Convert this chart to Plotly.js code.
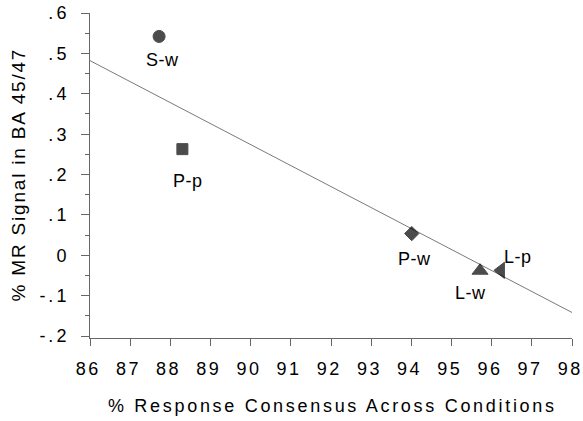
<!DOCTYPE html>
<html>
<head>
<meta charset="utf-8">
<script src="https://cdn.plot.ly/plotly-3.0.1.min.js"></script>
<style>html,body{margin:0;padding:0;background:#fff;}#chart{width:583px;height:421px;}</style>
</head>
<body>
<div id="chart"></div>
<script>
// Conditions (points)
const conditions = ["S-w", "P-p", "P-w", "L-w", "L-p"];
const consensus = [87.72, 88.30, 94.01, 95.71, 96.23];      // % response consensus
const mrSignal = [0.542, 0.263, 0.054, -0.038, -0.037];     // % MR signal in BA 45/47
const symbols = ["circle", "square", "diamond", "triangle-up", "triangle-left"];
const markerSizes = [12, 11, 11, 14, 14];

// Regression line endpoints
const fitX = [86, 98.07];
const fitY = [0.482, -0.145];

// Axis ticks
const xTickVals = [86, 87, 88, 89, 90, 91, 92, 93, 94, 95, 96, 97, 98];
const xTickText = ["86", "87", "88", "89", "90", "91", "92", "93", "94", "95", "96", "97", "98"];
const yTickVals = [0.6, 0.5, 0.4, 0.3, 0.2, 0.1, 0, -0.1, -0.2];
const yTickText = [".6", ".5", ".4", ".3", ".2", ".1", "0", "-.1", "-.2"];

// Label offsets in px (style)
const labelShift = [[3, -24], [5, -32], [3, -25], [-10, -22], [17, 13]];

const font = "Liberation Sans, Arial, Helvetica, sans-serif";
const spaced = (t, ls) => '<span style="letter-spacing:' + ls + 'px">' + t + '</span>';
// letter-spacing between characters only (no trailing space after the last one)
const spacedInner = (t, ls) => t.length > 1 ? spaced(t.slice(0, -1), ls) + t.slice(-1) : t;

const traces = [
  {
    x: fitX, y: fitY, mode: "lines", type: "scatter",
    line: {color: "#7a7a7a", width: 1}, hoverinfo: "skip", cliponaxis: false
  },
  {
    x: consensus, y: mrSignal, mode: "markers", type: "scatter",
    marker: {symbol: symbols, size: markerSizes, color: "#000", line: {color: "#000", width: 1}},
    cliponaxis: false
  }
];

const annotations = conditions.map((c, i) => ({
  x: consensus[i], y: mrSignal[i], xref: "x", yref: "y",
  text: spacedInner(c, 0.5), showarrow: false,
  xshift: labelShift[i][0], yshift: labelShift[i][1],
  font: {family: font, size: 18, color: "#000"}
}));

const layout = {
  width: 583, height: 421,
  margin: {l: 90, r: 11, t: 13, b: 83},
  paper_bgcolor: "#fff", plot_bgcolor: "#fff",
  showlegend: false,
  font: {family: font, color: "#000"},
  xaxis: {
    range: [86, 98], tickvals: xTickVals, ticktext: xTickText.map(t => spacedInner(t, 2.5)),
    showgrid: false, zeroline: false,
    showline: true, linecolor: "#666", linewidth: 1,
    ticks: "outside", ticklen: 7, tickcolor: "#666", tickwidth: 1,
    tickfont: {family: font, size: 18, color: "#000"},
    ticklabelstandoff: 7, ticklabelshift: -3, ticklabeloverflow: "allow",
    title: {text: spacedInner("% Response Consensus Across Conditions", 2.7),
            font: {family: font, size: 18, color: "#000"}, standoff: 21}
  },
  yaxis: {
    range: [-0.2045, 0.6], tickvals: yTickVals, ticktext: yTickText.map(t => spacedInner(t, 3)),
    showgrid: false, zeroline: false,
    showline: true, linecolor: "#666", linewidth: 1,
    ticks: "outside", ticklen: 8, tickcolor: "#666", tickwidth: 1,
    minor: {dtick: 0.05, ticks: "outside", ticklen: 4, tickcolor: "#666", showgrid: false},
    tickfont: {family: font, size: 18, color: "#000"},
    ticklabelstandoff: 11, ticklabeloverflow: "allow",
    title: {text: spacedInner("% MR Signal in BA 45/47", 1.8),
            font: {family: font, size: 19, color: "#000"}, standoff: 8}
  },
  annotations: annotations
};

Plotly.newPlot("chart", traces, layout, {staticPlot: true, displayModeBar: false});
</script>
</body>
</html>
